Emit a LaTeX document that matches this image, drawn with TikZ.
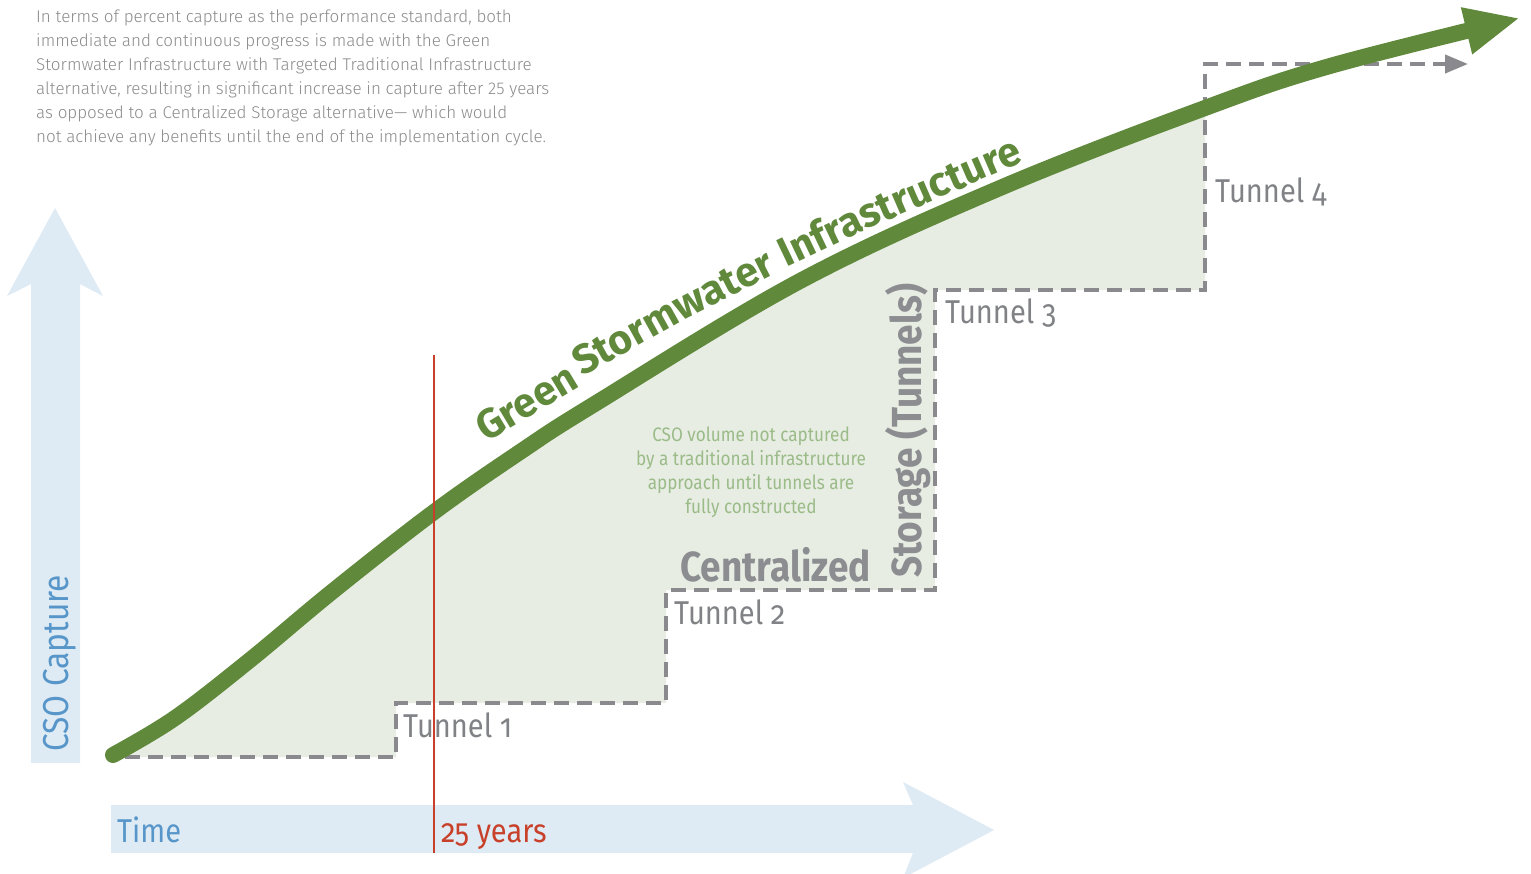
\documentclass[tikz,border=0pt]{standalone}
\usepackage{fontspec}
\setmainfont{Fira Sans}[Numbers=OldStyle, FakeStretch=0.88]
\newfontfamily\gsifamily{Fira Sans}[Numbers=OldStyle]
\IfFontExistsTF{Fira Sans Light}
 {\newfontfamily\parafamily{Fira Sans Light}}
 {\newfontfamily\parafamily{Fira Sans}}
\usetikzlibrary{arrows.meta}
\definecolor{gsi}{RGB}{96,137,59}
\definecolor{areafill}{RGB}{231,237,226}
\definecolor{dashgray}{RGB}{138,138,142}
\definecolor{labgray}{RGB}{128,130,134}
\definecolor{boldgray}{RGB}{140,141,145}
\definecolor{bluefill}{RGB}{222,235,244}
\definecolor{bluetext}{RGB}{88,150,202}
\definecolor{redline}{RGB}{200,64,42}
\definecolor{csogreen}{RGB}{155,187,137}
\definecolor{paragray}{RGB}{140,140,140}
\begin{document}
\begin{tikzpicture}[x=1pt,y=-1pt,
  stair/.style={draw=dashgray, line width=4pt, dash pattern=on 15pt off 8pt},
  tunnel/.style={anchor=base west, inner sep=0pt, text=labgray, font=\fontsize{33}{33}\selectfont},
  axislabel/.style={anchor=base west, inner sep=0pt, text=bluetext, font=\fontsize{33}{33}\selectfont},
  boldlabel/.style={anchor=base west, inner sep=0pt, text=boldgray, font=\fontsize{42}{42}\selectfont\bfseries},
  paraline/.style={anchor=base west, inner sep=0pt, text=paragray, font=\parafamily\fontsize{17}{24}\selectfont},
  csoline/.style={anchor=base, inner sep=0pt, text=csogreen, font=\fontsize{19.5}{24}\selectfont},
  gsitext/.style={anchor=base west, inner sep=0pt, text=gsi, font=\gsifamily\fontsize{41}{41}\selectfont\bfseries},
]
\fill[white] (0,0) rectangle (1531,873);
\useasboundingbox (0,0) rectangle (1531,873);

% axis arrows
\fill[bluefill] (31,763) -- (31,284) -- (7,296) -- (55,208) -- (103,296) -- (80,284) -- (80,763) -- cycle;
\fill[bluefill] (111,805) -- (913,805) -- (903,782) -- (994,830) -- (903,878) -- (913,853) -- (111,853) -- cycle;

% area between curve and staircase
\begin{scope}
\clip plot[smooth, tension=0.6] coordinates {(113,755) (175,718) (250,660) (333,591) (434,512) (520,452) (593,405) (800,281) (1000,188) (1205,108) (1330,66) (1520,18)} -- (1531,873) -- (0,873) -- cycle;
\fill[areafill] (113,757) -- (113,0) -- (1205,0) -- (1205,290) -- (935,290) -- (935,590) -- (666,590) -- (666,703) -- (396,703) -- (396,757) -- cycle;
\end{scope}

% staircase
\draw[stair, -{Triangle[length=23pt,width=18pt]}] (125,757) -- (396,757) -- (396,703) -- (666,703) -- (666,590) -- (935,590) -- (935,290) -- (1205,290) -- (1205,64) -- (1468,64);

% paragraph
\foreach \t [count=\i] in {
 {In terms of percent capture as the performance standard, both},
 {immediate and continuous progress is made with the Green},
 {Stormwater Infrastructure with Targeted Traditional Infrastructure},
 {alternative, resulting in significant increase in capture after 25 years},
 {as opposed to a Centralized Storage alternative— which would},
 {not achieve any benefits until the end of the implementation cycle.}}
 \node[paraline] (para\i) at (36,{22+24*(\i-1)}) {\t};

% labels
\node[tunnel] (t1) at (403,737) {Tunnel 1};
\node[tunnel] (t2) at (674,624) {Tunnel 2};
\node[tunnel] (t3) at (945,323) {Tunnel 3};
\node[tunnel] (t4) at (1215,202) {Tunnel 4};
\node[boldlabel] (central) at (680,581) {Centralized};
\node[boldlabel, rotate=90] (storage) at (921,578) {Storage (Tunnels)};
\node[csoline] (c1) at (751,441) {CSO volume not captured};
\node[csoline] (c2) at (751,465) {by a traditional infrastructure};
\node[csoline] (c3) at (751,489) {approach until tunnels are};
\node[csoline] (c4) at (751,513) {fully constructed};
\node[axislabel] (time) at (117,842) {Time};
\node[axislabel, rotate=90, font=\fontsize{36}{36}\selectfont] (capture) at (68,752) {CSO Capture};
\node[anchor=base west, inner sep=0pt, text=redline, font=\fontsize{33}{33}\selectfont] (years) at (441,842) {25 years};

% green curve
\draw[gsi, line width=16pt, line cap=round, -{Triangle[length=55pt,width=44pt]}]
 plot[smooth, tension=0.6] coordinates {(113,755) (175,718) (250,660) (333,591) (434,512) (520,452) (593,405) (800,281) (1000,188) (1205,108) (1330,66) (1520,18)};

% curved label, word by word
\node[gsitext, rotate=31] (g1) at (486,443) {Green};
\node[gsitext, rotate=29] (g2) at (582,377) {Storm};
\node[gsitext, rotate=27] (g3) at (g2.base east) {water};
\node[gsitext, rotate=25.5] (g4) at (786,268) {Infra};
\node[gsitext, rotate=23.5] (g5) at (g4.base east) {structure};

% 25 years line
\draw[redline, line width=2pt] (434,355) -- (434,853);
\end{tikzpicture}
\end{document}
